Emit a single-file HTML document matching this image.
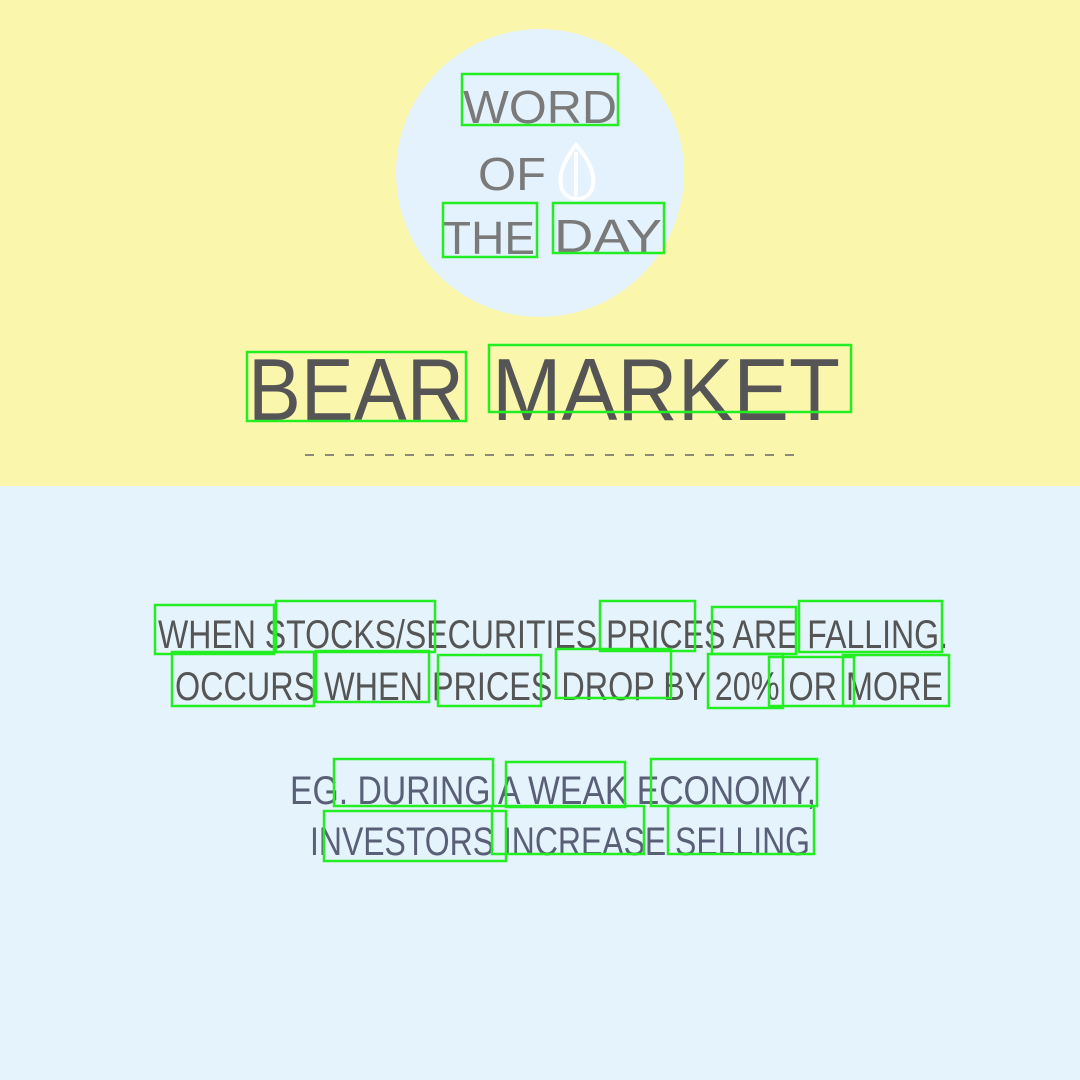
<!DOCTYPE html>
<html><head><meta charset="utf-8"><style>html,body{margin:0;padding:0;width:1080px;height:1080px;overflow:hidden}</style></head>
<body>
<svg width="1080" height="1080" viewBox="0 0 1080 1080" xmlns="http://www.w3.org/2000/svg" font-family="Liberation Sans, sans-serif">
<rect x="0" y="0" width="1080" height="486" fill="#FAF7AC"/>
<rect x="0" y="486" width="1080" height="594" fill="#E5F3FC"/>
<circle cx="540" cy="173" r="144" fill="#E3F2FC"/>
<g fill="#7A7A7A" font-size="46">
<text x="463" y="123" textLength="154" lengthAdjust="spacingAndGlyphs">WORD</text>
<text x="478" y="190" textLength="68" lengthAdjust="spacingAndGlyphs">OF</text>
<text x="443" y="254" textLength="92" lengthAdjust="spacingAndGlyphs">THE</text>
<text x="554" y="252" textLength="108" lengthAdjust="spacingAndGlyphs">DAY</text>
</g>
<path d="M576 145 C560 165 556 185 566 195 C572 200 582 200 588 195 C598 185 594 165 576 145 Z M576 152 L576 196" fill="none" stroke="#fff" stroke-width="4"/>
<g fill="#555" font-size="88">
<text x="248" y="420" textLength="216" lengthAdjust="spacingAndGlyphs">BEAR</text>
<text x="492" y="420" textLength="348" lengthAdjust="spacingAndGlyphs">MARKET</text>
</g>
<line x1="305" y1="455" x2="795" y2="455" stroke="#666" stroke-width="1.5" stroke-dasharray="9 11"/>
<g fill="#555" font-size="40">
<text x="158" y="648" textLength="790" lengthAdjust="spacingAndGlyphs">WHEN STOCKS/SECURITIES PRICES ARE FALLING.</text>
<text x="175" y="700" textLength="768" lengthAdjust="spacingAndGlyphs">OCCURS WHEN PRICES DROP BY 20% OR MORE</text>
</g>
<g fill="#5A5F78" font-size="40">
<text x="290" y="804" textLength="526" lengthAdjust="spacingAndGlyphs">EG. DURING A WEAK ECONOMY,</text>
<text x="310" y="855" textLength="500" lengthAdjust="spacingAndGlyphs">INVESTORS INCREASE SELLING</text>
</g>
<g fill="none" stroke="#22EE22" stroke-width="2.5">
<rect x="462" y="74" width="156" height="51"/><rect x="443" y="203" width="94" height="54"/><rect x="553" y="203" width="111" height="50"/>
<rect x="247" y="352" width="219" height="69"/><rect x="489" y="345" width="362" height="67"/>
<rect x="155" y="605" width="119" height="49"/><rect x="276" y="601" width="159" height="51"/><rect x="600" y="601" width="95" height="50"/><rect x="712" y="607" width="84" height="47"/><rect x="799" y="601" width="143" height="51"/>
<rect x="172" y="652" width="142" height="54"/><rect x="316" y="651" width="113" height="51"/><rect x="438" y="655" width="103" height="51"/><rect x="556" y="649" width="115" height="49"/><rect x="708" y="654" width="75" height="54"/><rect x="769" y="657" width="85" height="49"/><rect x="843" y="655" width="106" height="51"/>
<rect x="334" y="759" width="159" height="47"/><rect x="506" y="762" width="119" height="45"/><rect x="651" y="759" width="166" height="47"/>
<rect x="324" y="811" width="182" height="50"/><rect x="492" y="806" width="152" height="48"/><rect x="668" y="806" width="146" height="48"/>
</g>
</svg>
</body></html>
